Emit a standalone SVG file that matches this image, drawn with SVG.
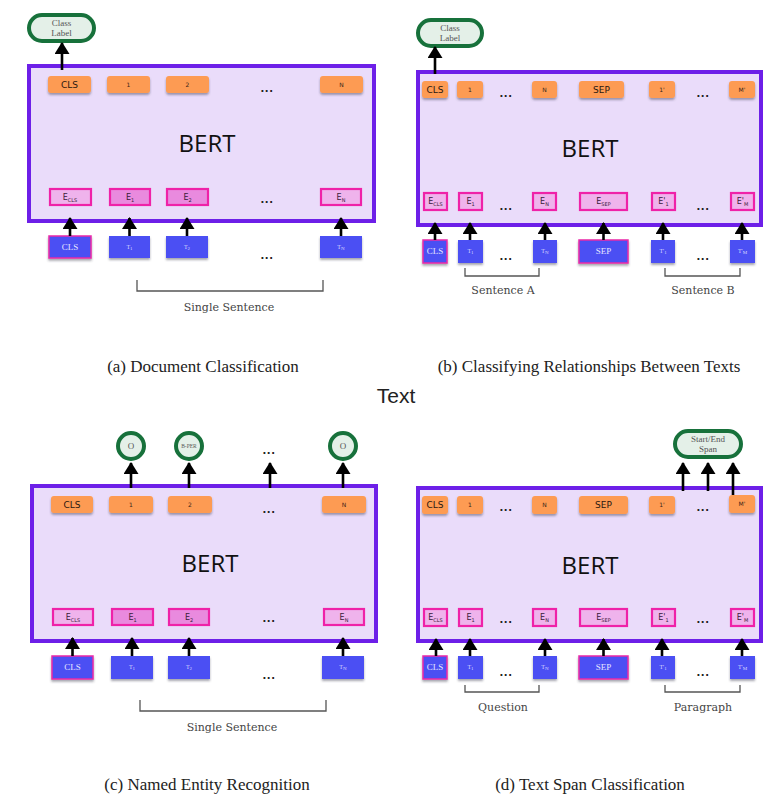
<svg xmlns="http://www.w3.org/2000/svg" width="784" height="799" viewBox="0 0 784 799">
<defs>
<filter id="sh" x="-20%" y="-20%" width="140%" height="170%"><feDropShadow dx="0" dy="2" stdDeviation="1.2" flood-color="#3a3a50" flood-opacity="0.45"/></filter>
<marker id="ah" viewBox="0 0 12 15" refX="11" refY="7.5" markerWidth="12" markerHeight="15" markerUnits="userSpaceOnUse" orient="auto"><path d="M0,0 L12,7.5 L0,15 z" fill="#000"/></marker>
<style>
.bert{fill:#eadcfa;stroke:#6d1fe8;stroke-width:4}
.tok{fill:#fd9b52;filter:url(#sh)}
.emb{fill:#efb3ec;stroke:#ef22a8;stroke-width:2.2}
.emb2{fill:#e98ade;stroke:#ef22a8;stroke-width:2.2}
.tin{fill:#4b4ff3;filter:url(#sh)}
.tcls{fill:#4b4ff3;stroke:#ea2aa8;stroke-width:1.5;filter:url(#sh)}
.out{fill:#e4f0e8;stroke:#17713b;stroke-width:4}
.brk{fill:none;stroke:#555;stroke-width:1.3}
.arr{stroke:#000;stroke-width:2.6;fill:none;marker-end:url(#ah)}
.bt{font-family:"Open Sans","DejaVu Sans",sans-serif;font-size:24px;fill:#111;text-anchor:middle}
.tk{font-family:"DejaVu Sans",sans-serif;font-size:6px;fill:#3a2418;text-anchor:middle}
.tkb{font-family:"DejaVu Sans",sans-serif;font-size:9px;fill:#2a1810;text-anchor:middle}
.et{font-family:"DejaVu Sans",sans-serif;font-size:8px;fill:#3a203a;text-anchor:middle}
.sub{font-size:5px}
.ti{font-family:"Liberation Serif",serif;font-size:6px;fill:#d8d8ff;text-anchor:middle}
.tic{font-family:"Liberation Serif",serif;font-size:9px;fill:#e6e6ff;text-anchor:middle}
.dots{font-family:"DejaVu Sans",sans-serif;font-size:10px;font-weight:bold;fill:#222;text-anchor:middle;letter-spacing:0.5px}
.lab{font-family:"DejaVu Serif",serif;font-size:11px;fill:#444;text-anchor:middle}
.ol{font-family:"Liberation Serif",serif;font-size:9px;fill:#555;text-anchor:middle}
.cap{font-family:"Liberation Serif",serif;font-size:17px;fill:#222;text-anchor:middle}
.ttl{font-family:"Liberation Sans",sans-serif;font-size:21px;fill:#222;text-anchor:middle}
</style>
</defs>
<rect width="784" height="799" fill="#fff"/>

<!-- ===== Panel A ===== -->
<g id="a-bert"><rect class="bert" x="29" y="66" width="345" height="155"/><text class="bt" x="207" y="152">BERT</text></g>
<g id="a-o-cls"><rect class="tok" x="48" y="76" width="43" height="17" rx="3"/><text class="tkb" x="69.5" y="88">CLS</text></g>
<g id="a-o-1"><rect class="tok" x="107" y="76" width="43" height="17" rx="3"/><text class="tk" x="128.5" y="87">1</text></g>
<g id="a-o-2"><rect class="tok" x="166" y="76" width="43" height="17" rx="3"/><text class="tk" x="187.5" y="87">2</text></g>
<text class="dots" x="267" y="92">...</text>
<g id="a-o-n"><rect class="tok" x="320" y="76" width="43" height="17" rx="3"/><text class="tk" x="341.5" y="87">N</text></g>
<g id="a-e-cls"><rect class="emb" x="50" y="189" width="41" height="16"/><text class="et" x="70" y="200">E<tspan class="sub" dy="1.5">CLS</tspan></text></g>
<g id="a-e-1"><rect class="emb2" x="110" y="189" width="40" height="16"/><text class="et" x="130" y="200">E<tspan class="sub" dy="1.5">1</tspan></text></g>
<g id="a-e-2"><rect class="emb2" x="167" y="189" width="41" height="16"/><text class="et" x="187.5" y="200">E<tspan class="sub" dy="1.5">2</tspan></text></g>
<text class="dots" x="267" y="203">...</text>
<g id="a-e-n"><rect class="emb" x="321" y="189" width="40" height="16"/><text class="et" x="341" y="200">E<tspan class="sub" dy="1.5">N</tspan></text></g>
<g id="a-t-cls"><rect class="tcls" x="49" y="236" width="42" height="22"/><text class="tic" x="70" y="250">CLS</text></g>
<g id="a-t-1"><rect class="tin" x="109" y="236" width="41" height="22"/><text class="ti" x="129.5" y="249">T<tspan class="sub" dy="1">1</tspan></text></g>
<g id="a-t-2"><rect class="tin" x="166" y="236" width="42" height="22"/><text class="ti" x="187" y="249">T<tspan class="sub" dy="1">2</tspan></text></g>
<text class="dots" x="267" y="259">...</text>
<g id="a-t-n"><rect class="tin" x="320" y="236" width="42" height="22"/><text class="ti" x="341" y="249">T<tspan class="sub" dy="1">N</tspan></text></g>
<g id="a-out"><rect class="out" x="29" y="15" width="65" height="26" rx="13"/><text class="ol" x="61.5" y="26">Class</text><text class="ol" x="61.5" y="36">Label</text></g>
<g id="a-brk"><path class="brk" d="M137,280 V291 H323 V280"/><text class="lab" x="229" y="311">Single Sentence</text></g>
<text class="cap" x="203" y="372">(a) Document Classification</text>

<!-- ===== Panel B ===== -->
<g id="b-bert"><rect class="bert" x="418" y="72" width="343" height="153"/><text class="bt" x="590" y="157">BERT</text></g>
<g id="b-o-cls"><rect class="tok" x="422" y="81" width="26" height="17" rx="3"/><text class="tkb" x="435" y="93">CLS</text></g>
<g id="b-o-1"><rect class="tok" x="457" y="81" width="26" height="17" rx="3"/><text class="tk" x="470" y="92">1</text></g>
<text class="dots" x="506" y="97">...</text>
<g id="b-o-n"><rect class="tok" x="532" y="81" width="25" height="17" rx="3"/><text class="tk" x="544.5" y="92">N</text></g>
<g id="b-o-sep"><rect class="tok" x="579" y="81" width="45" height="17" rx="3"/><text class="tkb" x="601.5" y="93">SEP</text></g>
<g id="b-o-1p"><rect class="tok" x="649" y="81" width="26" height="17" rx="3"/><text class="tk" x="662" y="92">1'</text></g>
<text class="dots" x="703" y="97">...</text>
<g id="b-o-mp"><rect class="tok" x="729" y="81" width="26" height="17" rx="3"/><text class="tk" x="742" y="92">M'</text></g>
<g id="b-e-cls"><rect class="emb" x="424" y="193" width="23" height="17"/><text class="et" x="435.5" y="204">E<tspan class="sub" dy="1.5">CLS</tspan></text></g>
<g id="b-e-1"><rect class="emb" x="459" y="193" width="23" height="17"/><text class="et" x="470.5" y="204">E<tspan class="sub" dy="1.5">1</tspan></text></g>
<text class="dots" x="506" y="210">...</text>
<g id="b-e-n"><rect class="emb" x="533" y="193" width="23" height="17"/><text class="et" x="544.5" y="204">E<tspan class="sub" dy="1.5">N</tspan></text></g>
<g id="b-e-sep"><rect class="emb" x="580" y="193" width="47" height="17"/><text class="et" x="603.5" y="204">E<tspan class="sub" dy="1.5">SEP</tspan></text></g>
<g id="b-e-1p"><rect class="emb" x="652" y="193" width="23" height="17"/><text class="et" x="663.5" y="204">E'<tspan class="sub" dy="1.5">1</tspan></text></g>
<text class="dots" x="703" y="210">...</text>
<g id="b-e-mp"><rect class="emb" x="731" y="193" width="23" height="17"/><text class="et" x="742.5" y="204">E'<tspan class="sub" dy="1.5">M</tspan></text></g>
<g id="b-t-cls"><rect class="tcls" x="423" y="240" width="24" height="23"/><text class="tic" x="435" y="254">CLS</text></g>
<g id="b-t-1"><rect class="tin" x="458" y="240" width="25" height="23"/><text class="ti" x="470.5" y="253">T<tspan class="sub" dy="1">1</tspan></text></g>
<text class="dots" x="506" y="260">...</text>
<g id="b-t-n"><rect class="tin" x="533" y="240" width="24" height="23"/><text class="ti" x="545" y="253">T<tspan class="sub" dy="1">N</tspan></text></g>
<g id="b-t-sep"><rect class="tcls" x="579" y="240" width="49" height="23"/><text class="tic" x="603.5" y="254">SEP</text></g>
<g id="b-t-1p"><rect class="tin" x="651" y="240" width="24" height="23"/><text class="ti" x="663" y="253">T'<tspan class="sub" dy="1">1</tspan></text></g>
<text class="dots" x="703" y="260">...</text>
<g id="b-t-mp"><rect class="tin" x="730" y="240" width="25" height="23"/><text class="ti" x="742.5" y="253">T'<tspan class="sub" dy="1">M</tspan></text></g>
<g id="b-out"><rect class="out" x="418" y="20" width="64" height="26" rx="13"/><text class="ol" x="450" y="31">Class</text><text class="ol" x="450" y="41">Label</text></g>
<g id="b-brk-a"><path class="brk" d="M465,268 V276 H539 V268"/><text class="lab" x="503" y="294">Sentence A</text></g>
<g id="b-brk-b"><path class="brk" d="M665,268 V276 H740 V268"/><text class="lab" x="703" y="294">Sentence B</text></g>
<text class="cap" x="589" y="372">(b) Classifying Relationships Between Texts</text>

<text class="ttl" x="396" y="403">Text</text>

<!-- ===== Panel C ===== -->
<g id="c-bert"><rect class="bert" x="32" y="486" width="344" height="155"/><text class="bt" x="210" y="572">BERT</text></g>
<g id="c-o-cls"><rect class="tok" x="51" y="496" width="42" height="17" rx="3"/><text class="tkb" x="72" y="508">CLS</text></g>
<g id="c-o-1"><rect class="tok" x="109" y="496" width="44" height="17" rx="3"/><text class="tk" x="131" y="507">1</text></g>
<g id="c-o-2"><rect class="tok" x="168" y="496" width="44" height="17" rx="3"/><text class="tk" x="190" y="507">2</text></g>
<text class="dots" x="269" y="513">...</text>
<g id="c-o-n"><rect class="tok" x="322" y="496" width="44" height="17" rx="3"/><text class="tk" x="344" y="507">N</text></g>
<g id="c-e-cls"><rect class="emb" x="53" y="609" width="40" height="16"/><text class="et" x="73" y="620">E<tspan class="sub" dy="1.5">CLS</tspan></text></g>
<g id="c-e-1"><rect class="emb2" x="112" y="609" width="41" height="16"/><text class="et" x="132.5" y="620">E<tspan class="sub" dy="1.5">1</tspan></text></g>
<g id="c-e-2"><rect class="emb2" x="169" y="609" width="40" height="16"/><text class="et" x="189" y="620">E<tspan class="sub" dy="1.5">2</tspan></text></g>
<text class="dots" x="269" y="622">...</text>
<g id="c-e-n"><rect class="emb" x="324" y="609" width="40" height="16"/><text class="et" x="344" y="620">E<tspan class="sub" dy="1.5">N</tspan></text></g>
<g id="c-t-cls"><rect class="tcls" x="52" y="656" width="41" height="23"/><text class="tic" x="72.5" y="670">CLS</text></g>
<g id="c-t-1"><rect class="tin" x="111" y="656" width="42" height="23"/><text class="ti" x="132" y="669">T<tspan class="sub" dy="1">1</tspan></text></g>
<g id="c-t-2"><rect class="tin" x="168" y="656" width="42" height="23"/><text class="ti" x="189" y="669">T<tspan class="sub" dy="1">2</tspan></text></g>
<text class="dots" x="269" y="679">...</text>
<g id="c-t-n"><rect class="tin" x="322" y="656" width="42" height="23"/><text class="ti" x="343" y="669">T<tspan class="sub" dy="1">N</tspan></text></g>
<g id="c-out-1"><circle class="out" cx="131" cy="446" r="13"/><text class="ol" x="131" y="449">O</text></g>
<g id="c-out-2"><circle class="out" cx="189" cy="446" r="13"/><text class="ol" x="189" y="448" style="font-size:5.5px">B-PER</text></g>
<text class="dots" x="269" y="454">...</text>
<g id="c-out-n"><circle class="out" cx="343" cy="446" r="13"/><text class="ol" x="343" y="449">O</text></g>
<g id="c-brk"><path class="brk" d="M140,700 V711 H326 V700"/><text class="lab" x="232" y="731">Single Sentence</text></g>
<text class="cap" x="207" y="790">(c) Named Entity Recognition</text>

<!-- ===== Panel D ===== -->
<g id="d-bert"><rect class="bert" x="418" y="488" width="343" height="153"/><text class="bt" x="590" y="574">BERT</text></g>
<g id="d-o-cls"><rect class="tok" x="422" y="496" width="26" height="18" rx="3"/><text class="tkb" x="435" y="508">CLS</text></g>
<g id="d-o-1"><rect class="tok" x="457" y="496" width="26" height="18" rx="3"/><text class="tk" x="470" y="507">1</text></g>
<text class="dots" x="506" y="511">...</text>
<g id="d-o-n"><rect class="tok" x="532" y="496" width="25" height="18" rx="3"/><text class="tk" x="544.5" y="507">N</text></g>
<g id="d-o-sep"><rect class="tok" x="579" y="496" width="49" height="18" rx="3"/><text class="tkb" x="603.5" y="508">SEP</text></g>
<g id="d-o-1p"><rect class="tok" x="649" y="496" width="26" height="18" rx="3"/><text class="tk" x="662" y="507">1'</text></g>
<text class="dots" x="703" y="511">...</text>
<g id="d-o-mp"><rect class="tok" x="729" y="495" width="26" height="18" rx="3"/><text class="tk" x="742" y="506">M'</text></g>
<g id="d-e-cls"><rect class="emb" x="424" y="609" width="23" height="17"/><text class="et" x="435.5" y="620">E<tspan class="sub" dy="1.5">CLS</tspan></text></g>
<g id="d-e-1"><rect class="emb" x="459" y="609" width="23" height="17"/><text class="et" x="470.5" y="620">E<tspan class="sub" dy="1.5">1</tspan></text></g>
<text class="dots" x="506" y="623">...</text>
<g id="d-e-n"><rect class="emb" x="533" y="609" width="23" height="17"/><text class="et" x="544.5" y="620">E<tspan class="sub" dy="1.5">N</tspan></text></g>
<g id="d-e-sep"><rect class="emb" x="580" y="609" width="47" height="17"/><text class="et" x="603.5" y="620">E<tspan class="sub" dy="1.5">SEP</tspan></text></g>
<g id="d-e-1p"><rect class="emb" x="652" y="609" width="23" height="17"/><text class="et" x="663.5" y="620">E'<tspan class="sub" dy="1.5">1</tspan></text></g>
<text class="dots" x="703" y="623">...</text>
<g id="d-e-mp"><rect class="emb" x="731" y="609" width="23" height="17"/><text class="et" x="742.5" y="620">E'<tspan class="sub" dy="1.5">M</tspan></text></g>
<g id="d-t-cls"><rect class="tcls" x="423" y="656" width="24" height="23"/><text class="tic" x="435" y="670">CLS</text></g>
<g id="d-t-1"><rect class="tin" x="458" y="656" width="25" height="23"/><text class="ti" x="470.5" y="669">T<tspan class="sub" dy="1">1</tspan></text></g>
<text class="dots" x="506" y="676">...</text>
<g id="d-t-n"><rect class="tin" x="533" y="656" width="24" height="23"/><text class="ti" x="545" y="669">T<tspan class="sub" dy="1">N</tspan></text></g>
<g id="d-t-sep"><rect class="tcls" x="579" y="656" width="49" height="23"/><text class="tic" x="603.5" y="670">SEP</text></g>
<g id="d-t-1p"><rect class="tin" x="651" y="656" width="24" height="23"/><text class="ti" x="663" y="669">T'<tspan class="sub" dy="1">1</tspan></text></g>
<text class="dots" x="703" y="676">...</text>
<g id="d-t-mp"><rect class="tin" x="730" y="656" width="25" height="23"/><text class="ti" x="742.5" y="669">T'<tspan class="sub" dy="1">M</tspan></text></g>
<g id="d-out"><rect class="out" x="675" y="431" width="66" height="26" rx="13"/><text class="ol" x="708" y="442">Start/End</text><text class="ol" x="708" y="452">Span</text></g>
<g id="d-brk-q"><path class="brk" d="M465,685 V692 H539 V685"/><text class="lab" x="503" y="711">Question</text></g>
<g id="d-brk-p"><path class="brk" d="M665,685 V692 H740 V685"/><text class="lab" x="703" y="711">Paragraph</text></g>
<text class="cap" x="590" y="790">(d) Text Span Classification</text>

<!-- ===== Connectors ===== -->
<g id="connectors">
<line class="arr" x1="62" y1="70" x2="62" y2="43"/>
<line class="arr" x1="70" y1="236" x2="70" y2="218"/>
<line class="arr" x1="129.5" y1="236" x2="129.5" y2="218"/>
<line class="arr" x1="187" y1="236" x2="187" y2="218"/>
<line class="arr" x1="341" y1="236" x2="341" y2="218"/>

<line class="arr" x1="435" y1="74" x2="435" y2="47"/>
<line class="arr" x1="435" y1="240" x2="435" y2="223"/>
<line class="arr" x1="470" y1="240" x2="470" y2="223"/>
<line class="arr" x1="545" y1="240" x2="545" y2="223"/>
<line class="arr" x1="603.5" y1="240" x2="603.5" y2="223"/>
<line class="arr" x1="663" y1="240" x2="663" y2="223"/>
<line class="arr" x1="742" y1="240" x2="742" y2="223"/>

<line class="arr" x1="131" y1="488" x2="131" y2="463"/>
<line class="arr" x1="189" y1="488" x2="189" y2="463"/>
<line class="arr" x1="270" y1="488" x2="270" y2="463"/>
<line class="arr" x1="343" y1="488" x2="343" y2="463"/>
<line class="arr" x1="72.5" y1="656" x2="72.5" y2="638"/>
<line class="arr" x1="132" y1="656" x2="132" y2="638"/>
<line class="arr" x1="189" y1="656" x2="189" y2="638"/>
<line class="arr" x1="343" y1="656" x2="343" y2="638"/>

<line class="arr" x1="683" y1="491" x2="683" y2="463"/>
<line class="arr" x1="708" y1="491" x2="708" y2="463"/>
<line class="arr" x1="733" y1="495" x2="733" y2="463"/>
<line class="arr" x1="436" y1="656" x2="436" y2="639"/>
<line class="arr" x1="470" y1="656" x2="470" y2="639"/>
<line class="arr" x1="545" y1="656" x2="545" y2="639"/>
<line class="arr" x1="603.5" y1="656" x2="603.5" y2="639"/>
<line class="arr" x1="662" y1="656" x2="662" y2="639"/>
<line class="arr" x1="742" y1="656" x2="742" y2="639"/>
</g>
</svg>
